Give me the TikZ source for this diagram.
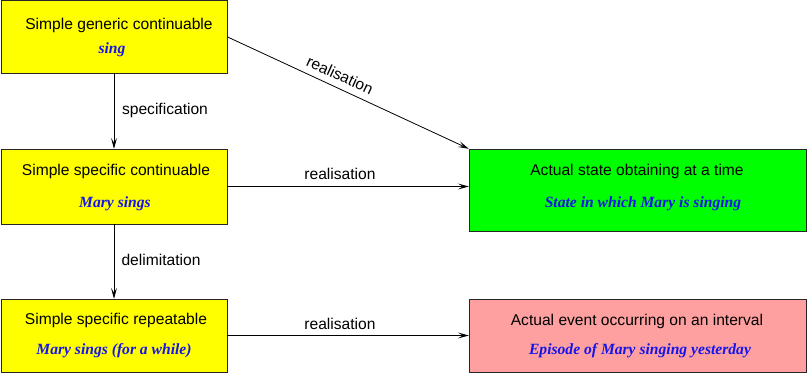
\documentclass[tikz,border=0pt]{standalone}
\usepackage{fontspec}
\setmainfont{Liberation Sans}
\newfontfamily\tms{Liberation Serif}
\usetikzlibrary{arrows.meta}
\definecolor{boxyellow}{RGB}{255,255,0}
\definecolor{boxgreen}{RGB}{0,255,0}
\definecolor{boxpink}{RGB}{255,160,160}
\definecolor{exblue}{RGB}{20,20,235}
\tikzset{
  box/.style={draw=black!85, line width=0.9pt, inner sep=0pt},
  head/.style={font=\fontsize{15.6}{18}\selectfont, inner sep=0pt, anchor=center},
  example/.style={font=\tms\bfseries\itshape\fontsize{15.6}{18}\selectfont, text=exblue, inner sep=0pt, anchor=center},
  lab/.style={font=\fontsize{15.6}{18}\selectfont, inner sep=0pt, anchor=center},
  arr/.style={draw=black, line width=0.8pt, -{Stealth[length=11pt,width=6pt,inset=5pt]}}
}
\begin{document}
\begin{tikzpicture}[x=1pt,y=-1pt]
\useasboundingbox (0,0) rectangle (807,374);
% boxes
\path[box, fill=boxyellow] (1,0.6) rectangle (227,73);
\node[minimum width=226pt, minimum height=72.4pt, inner sep=0pt] (b1) at (114,36.8) {};
\path[box, fill=boxyellow] (1,149) rectangle (227,224);
\node[minimum width=226pt, minimum height=75pt, inner sep=0pt] (b2) at (114,186.5) {};
\path[box, fill=boxyellow] (1,299) rectangle (227,372);
\node[minimum width=226pt, minimum height=73pt, inner sep=0pt] (b3) at (114,335.5) {};
\path[box, fill=boxgreen] (469,149) rectangle (806,231);
\node[minimum width=337pt, minimum height=82pt, inner sep=0pt] (g) at (637.5,190) {};
\path[box, fill=boxpink] (469,299) rectangle (806,372);
\node[minimum width=337pt, minimum height=73pt, inner sep=0pt] (p) at (637.5,335.5) {};
% texts
\node[head] (t1) at (119,25) {Simple generic continuable};
\node[example] (e1) at (112,50) {sing};
\node[head] (t2) at (116,171) {Simple specific continuable};
\node[example] (e2) at (115,204) {Mary sings};
\node[head] (t3) at (116,320) {Simple specific repeatable};
\node[example] (e3) at (114,351) {Mary sings (for a while)};
\node[head] (t4) at (637,171) {Actual state obtaining at a time};
\node[example] (e4) at (643,204) {State in which Mary is singing};
\node[head] (t5) at (637,321) {Actual event occurring on an interval};
\node[example] (e5) at (640,351) {Episode of Mary singing yesterday};
% connectors
\draw[arr] (b1.south) -- (b2.north);
\draw[arr] (b2.south) -- (b3.north);
\draw[arr] (b1.east) -- (g.north west);
\draw[arr] (b2.east) -- (b2.east -| g.west);
\draw[arr] (b3.east) -- (p.west);
% labels
\node[lab] (l1) at (165,110) {specification};
\node[lab] (l2) at (161,260) {delimitation};
\node[lab, rotate=-24.6] (l3) at (340,75) {realisation};
\node[lab] (l4) at (340,174) {realisation};
\node[lab] (l5) at (340,324) {realisation};
\end{tikzpicture}
\end{document}
